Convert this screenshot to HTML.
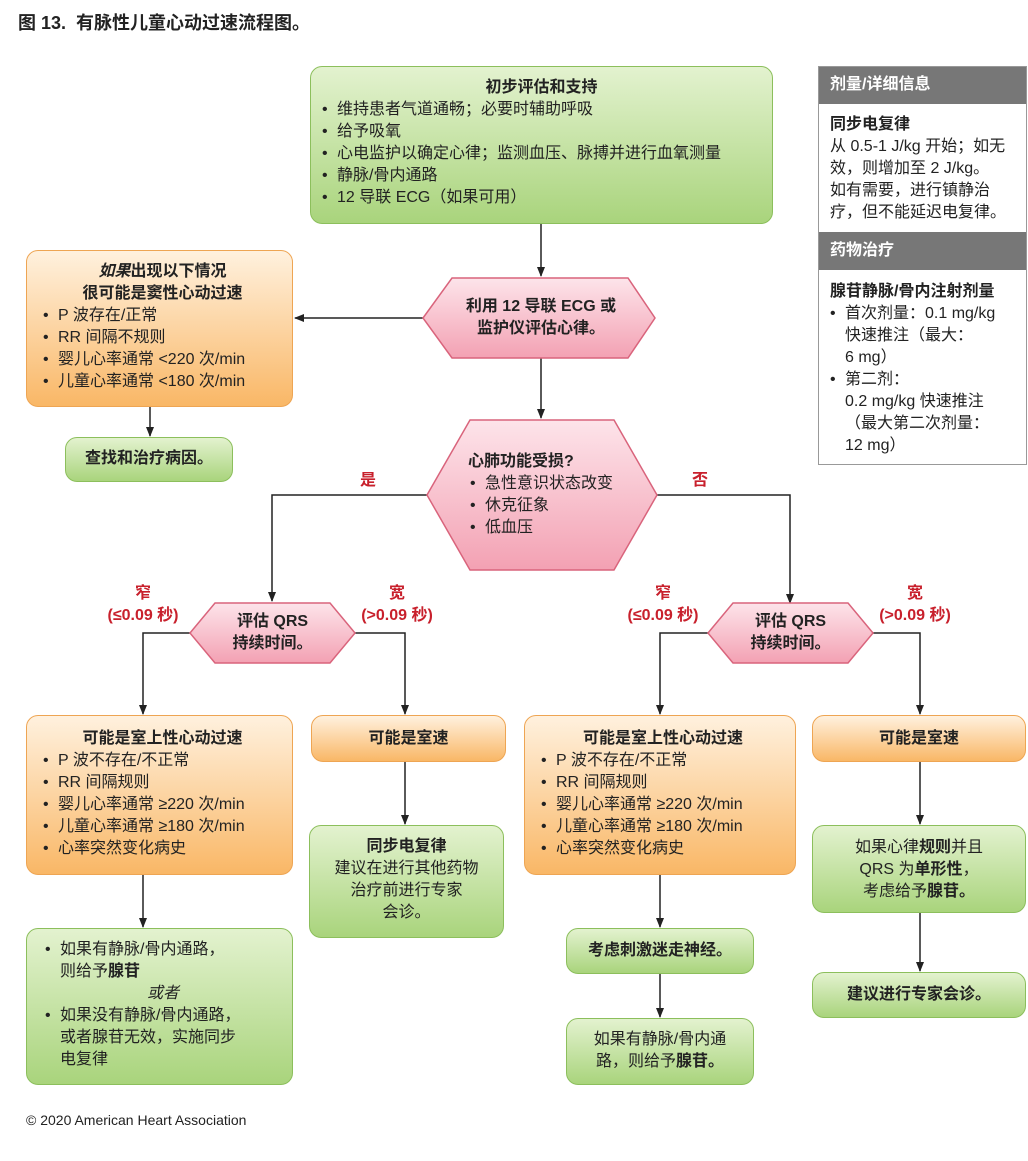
<!DOCTYPE html>
<html><head><meta charset="utf-8"><style>
body{margin:0;width:1028px;height:1161px;background:#fff;position:relative;overflow:hidden;font-family:"Liberation Sans","Noto Sans CJK SC",sans-serif;color:#222;font-size:16px}
.a{position:absolute;box-sizing:border-box;white-space:nowrap}
.g{background:linear-gradient(#e3f2cf,#a9d47c);border:1.5px solid #8cbf5c;border-radius:12px}
.o{background:linear-gradient(#fff1de,#f9b766);border:1.5px solid #eea553;border-radius:12px}
ul{margin:0;padding:0 0 0 17px;list-style:none}
li{position:relative;line-height:22px}
li:before{content:"•";position:absolute;left:-15px}
.t{font-weight:bold;text-align:center;line-height:22px}
.c{text-align:center;line-height:22px}
.r{color:#c8202c;font-weight:bold;text-align:center;line-height:22px}
</style></head><body>
<div class="a" style="left:18px;top:9px;font-size:18px;font-weight:bold">图 13.&nbsp; 有脉性儿童心动过速流程图。</div>
<svg class="a" style="left:0;top:0" width="1028" height="1161">
<defs><marker id="m" markerWidth="10" markerHeight="10" refX="9" refY="5" orient="auto" markerUnits="userSpaceOnUse"><path d="M0,1 L10,5 L0,9 Z" fill="#222"/></marker>
<linearGradient id="p" x1="0" y1="0" x2="0" y2="1"><stop offset="0" stop-color="#fde4ea"/><stop offset="1" stop-color="#f3a1b3"/></linearGradient></defs>
<g stroke="#222" stroke-width="1.5" fill="none">
<path d="M541 224 V276" marker-end="url(#m)"/>
<path d="M423 318 H295" marker-end="url(#m)"/>
<path d="M541 358 V418" marker-end="url(#m)"/>
<path d="M150 407 V436" marker-end="url(#m)"/>
<path d="M427 495 H272 V601" marker-end="url(#m)"/>
<path d="M657 495 H790 V603" marker-end="url(#m)"/>
<path d="M190 633 H143 V714" marker-end="url(#m)"/>
<path d="M355 633 H405 V714" marker-end="url(#m)"/>
<path d="M708 633 H660 V714" marker-end="url(#m)"/>
<path d="M873 633 H920 V714" marker-end="url(#m)"/>
<path d="M405 762 V824" marker-end="url(#m)"/>
<path d="M143 875 V927" marker-end="url(#m)"/>
<path d="M660 875 V927" marker-end="url(#m)"/>
<path d="M660 974 V1017" marker-end="url(#m)"/>
<path d="M920 762 V824" marker-end="url(#m)"/>
<path d="M920 913 V971" marker-end="url(#m)"/>
</g>
<g fill="url(#p)" stroke="#d9647c" stroke-width="1.5">
<polygon points="423,318 452,278 628,278 655,318 628,358 452,358"/>
<polygon points="427,495 470,420 614,420 657,495 614,570 470,570"/>
<polygon points="190,633 215,603 330,603 355,633 330,663 215,663"/>
<polygon points="708,633 733,603 848,603 873,633 848,663 733,663"/>
</g>
<rect x="818.5" y="66.5" width="208" height="398" fill="#fff" stroke="#999"/>
<rect x="819" y="67" width="207" height="37" fill="#777"/>
<rect x="819" y="232" width="207" height="38" fill="#777"/>
</svg>
<div class="a" style="left:830px;top:74px;color:#fff;font-weight:bold;line-height:22px">剂量/详细信息</div>
<div class="a" style="left:830px;top:114px;line-height:22px"><b>同步电复律</b><br>从 0.5-1 J/kg 开始；如无<br>效，则增加至 2 J/kg。<br>如有需要，进行镇静治<br>疗，但不能延迟电复律。</div>
<div class="a" style="left:830px;top:240px;color:#fff;font-weight:bold;line-height:22px">药物治疗</div>
<div class="a" style="left:830px;top:281px;line-height:22px"><b>腺苷静脉/骨内注射剂量</b>
<ul style="padding-left:15px"><li>首次剂量：0.1 mg/kg<br>快速推注（最大：<br>6 mg）</li><li>第二剂：<br>0.2 mg/kg 快速推注<br>（最大第二次剂量：<br>12 mg）</li></ul></div>

<div class="a g" style="left:310px;top:66px;width:463px;height:158px;padding:10px 6px 0 6px">
<div class="t">初步评估和支持</div>
<ul style="padding-left:20px"><li>维持患者气道通畅；必要时辅助呼吸</li><li>给予吸氧</li><li>心电监护以确定心律；监测血压、脉搏并进行血氧测量</li><li>静脉/骨内通路</li><li>12 导联 ECG（如果可用）</li></ul></div>
<div class="a t" style="left:440px;top:296px;width:202px">利用 12 导联 ECG 或<br>监护仪评估心律。</div>

<div class="a o" style="left:26px;top:250px;width:267px;height:157px;padding:10px 8px 0 14px">
<div class="t"><i>如果</i>出现以下情况<br>很可能是窦性心动过速</div>
<ul><li>P 波存在/正常</li><li>RR 间隔不规则</li><li>婴儿心率通常 &lt;220 次/min</li><li>儿童心率通常 &lt;180 次/min</li></ul></div>
<div class="a g t" style="left:65px;top:437px;width:168px;height:45px;padding-top:10px">查找和治疗病因。</div>

<div class="a" style="left:468px;top:451px;line-height:22px"><b>心肺功能受损?</b><ul style="margin-top:0"><li>急性意识状态改变</li><li>休克征象</li><li>低血压</li></ul></div>
<div class="a r" style="left:360px;top:470px">是</div>
<div class="a r" style="left:692px;top:470px">否</div>

<div class="a t" style="left:215px;top:611px;width:115px">评估 QRS<br>持续时间。</div>
<div class="a t" style="left:733px;top:611px;width:115px">评估 QRS<br>持续时间。</div>
<div class="a r" style="left:93px;top:583px;width:100px">窄<br>(≤0.09 秒)</div>
<div class="a r" style="left:347px;top:583px;width:100px">宽<br>(&gt;0.09 秒)</div>
<div class="a r" style="left:613px;top:583px;width:100px">窄<br>(≤0.09 秒)</div>
<div class="a r" style="left:865px;top:583px;width:100px">宽<br>(&gt;0.09 秒)</div>

<div class="a o" style="left:26px;top:715px;width:267px;height:160px;padding:12px 8px 0 14px">
<div class="t">可能是室上性心动过速</div>
<ul><li>P 波不存在/不正常</li><li>RR 间隔规则</li><li>婴儿心率通常 ≥220 次/min</li><li>儿童心率通常 ≥180 次/min</li><li>心率突然变化病史</li></ul></div>
<div class="a o" style="left:524px;top:715px;width:272px;height:160px;padding:12px 8px 0 14px">
<div class="t">可能是室上性心动过速</div>
<ul><li>P 波不存在/不正常</li><li>RR 间隔规则</li><li>婴儿心率通常 ≥220 次/min</li><li>儿童心率通常 ≥180 次/min</li><li>心率突然变化病史</li></ul></div>
<div class="a o t" style="left:311px;top:715px;width:195px;height:47px;padding-top:12px">可能是室速</div>
<div class="a o t" style="left:812px;top:715px;width:214px;height:47px;padding-top:12px">可能是室速</div>

<div class="a g c" style="left:309px;top:825px;width:195px;height:113px;padding:10px 4px 0"><b>同步电复律</b><br>建议在进行其他药物<br>治疗前进行专家<br>会诊。</div>
<div class="a g" style="left:26px;top:928px;width:267px;height:157px;padding:10px 8px 0 16px">
<ul><li>如果有静脉/骨内通路，<br>则给予<b>腺苷</b></li></ul><div class="c" style="font-style:italic;padding-left:10px;width:220px">或者</div><ul><li>如果没有静脉/骨内通路，<br>或者腺苷无效，实施同步<br>电复律</li></ul></div>
<div class="a g t" style="left:566px;top:928px;width:188px;height:46px;padding-top:11px">考虑刺激迷走神经。</div>
<div class="a g c" style="left:566px;top:1018px;width:188px;height:67px;padding-top:10px">如果有静脉/骨内通<br>路，则给予<b>腺苷。</b></div>
<div class="a g c" style="left:812px;top:825px;width:214px;height:88px;padding-top:11px">如果心律<b>规则</b>并且<br>QRS 为<b>单形性</b>，<br>考虑给予<b>腺苷。</b></div>
<div class="a g t" style="left:812px;top:972px;width:214px;height:46px;padding-top:11px">建议进行专家会诊。</div>
<div class="a" style="left:26px;top:1112px;font-size:14px">© 2020 American Heart Association</div>
</body></html>
